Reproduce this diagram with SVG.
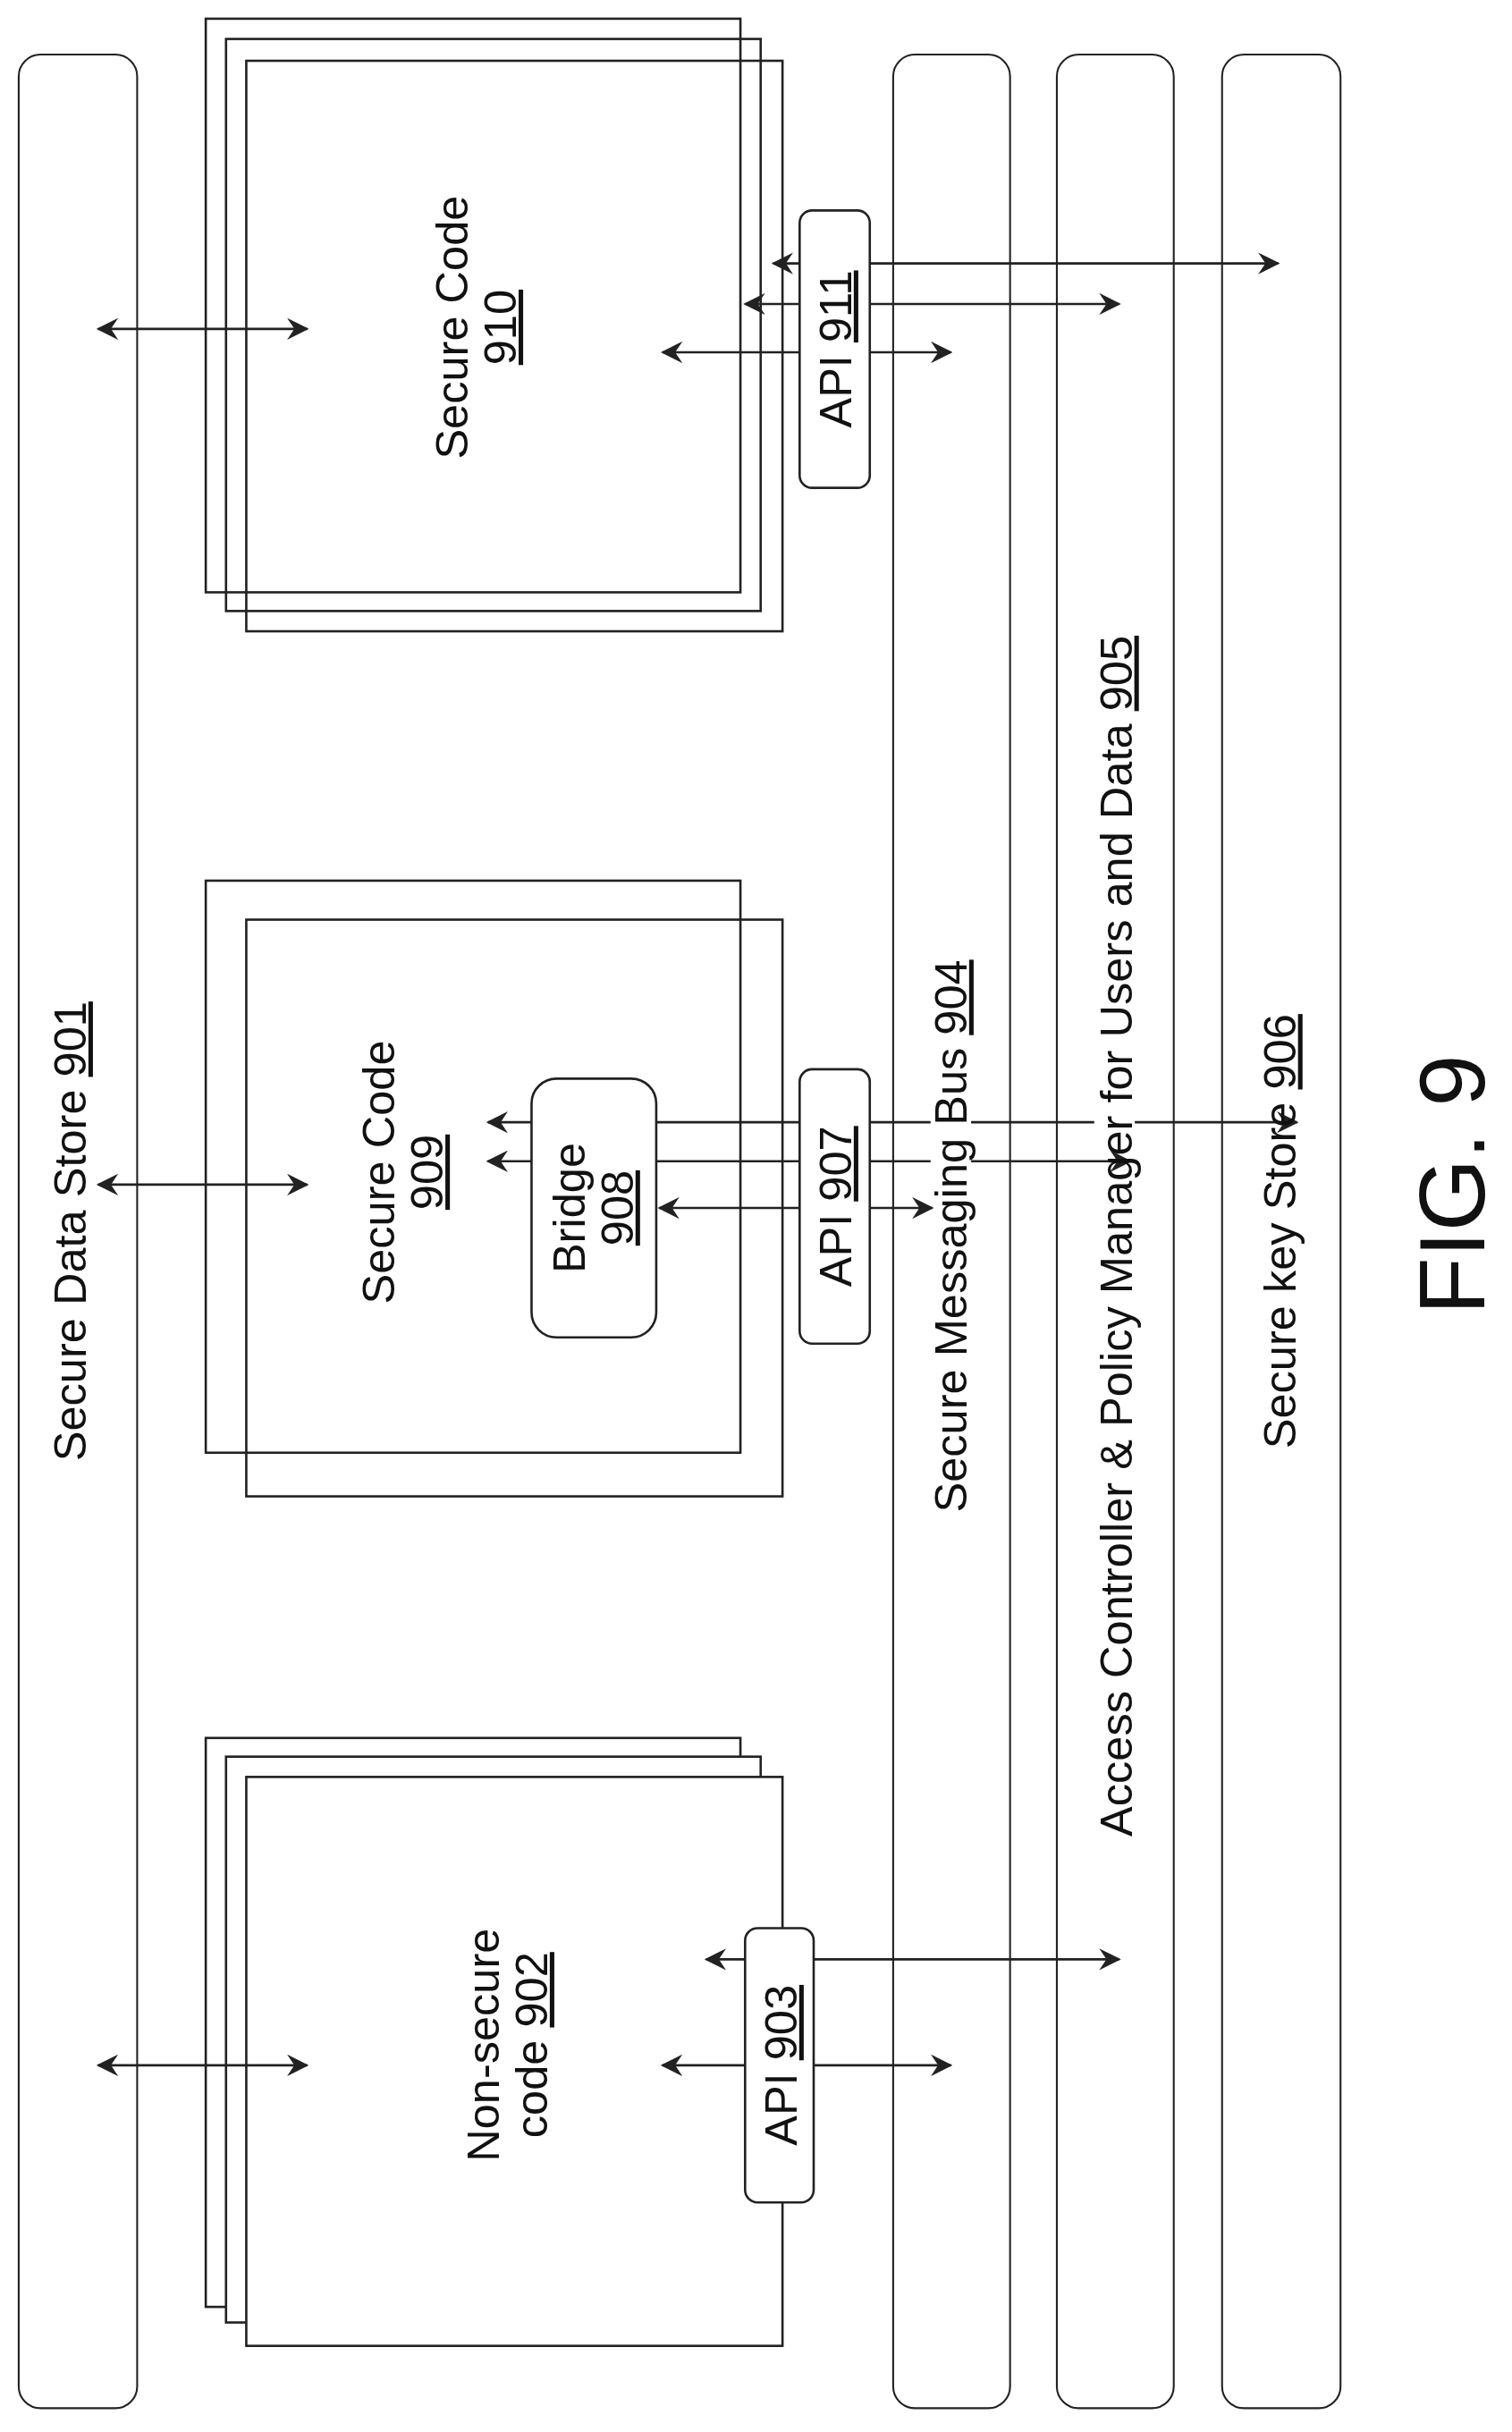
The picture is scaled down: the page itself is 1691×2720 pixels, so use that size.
<svg xmlns="http://www.w3.org/2000/svg" width="1691" height="2720" viewBox="0 0 1691 2720">
<defs>
<marker id="ah" viewBox="0 0 12 12" refX="11" refY="6" markerWidth="14" markerHeight="14" markerUnits="userSpaceOnUse" orient="auto-start-reverse">
<path d="M0,0 L12,6 L0,12 L4,6 z" fill="#222"/>
</marker>
</defs>
<style>
.bar{fill:none;stroke:#222;stroke-width:1.2}
.box{fill:none;stroke:#222;stroke-width:1.5}
.wbox{fill:#fff;stroke:#222;stroke-width:1.5}
.ar{stroke:#222;stroke-width:1.5;fill:none;marker-end:url(#ah)}
.da{stroke:#222;stroke-width:1.5;fill:none;marker-end:url(#ah);marker-start:url(#ah)}
text{font-family:"Liberation Sans",Arial,sans-serif;font-size:29px;fill:#111;text-anchor:middle}
.u{text-decoration:underline}
</style>
<rect width="1691" height="2720" fill="#fff"/>
<g transform="scale(1.7433)">
<g id="bars">
<rect id="n901" class="bar" x="12" y="35" width="76" height="1510" rx="14"/>
<rect id="n904" class="bar" x="573" y="35" width="75" height="1510" rx="14"/>
<rect id="n905" class="bar" x="678" y="35" width="75" height="1510" rx="14"/>
<rect id="n906" class="bar" x="784" y="35" width="76" height="1510" rx="14"/>
</g>
<g id="n910">
<rect class="box" x="132" y="12" width="343" height="368"/>
<rect class="box" x="145" y="25" width="343" height="367"/>
<rect class="box" x="158" y="39" width="344" height="366"/>
<text transform="translate(300,210) rotate(-90)"><tspan x="0" y="0">Secure Code</tspan><tspan x="0" y="31" class="u">910</tspan></text>
</g>
<g id="n909">
<rect class="box" x="132" y="565" width="343" height="367"/>
<rect class="box" x="158" y="590" width="344" height="370"/>
<text transform="translate(253,752) rotate(-90)"><tspan x="0" y="0">Secure Code</tspan><tspan x="0" y="31" class="u">909</tspan></text>
</g>
<g id="n902">
<rect class="wbox" x="132" y="1115" width="343" height="365"/>
<rect class="wbox" x="145" y="1127" width="343" height="363"/>
<rect class="wbox" x="158" y="1140" width="344" height="365"/>
<text transform="translate(320,1312) rotate(-90)"><tspan x="0" y="0">Non-secure</tspan><tspan x="0" y="31">code <tspan class="u">902</tspan></tspan></text>
</g>
<g id="connectors">
<line class="da" x1="63" y1="211" x2="197" y2="211"/>
<line class="da" x1="425" y1="226" x2="610" y2="226"/>
<line class="da" x1="478" y1="195" x2="718" y2="195"/>
<line class="da" x1="496" y1="169" x2="820" y2="169"/>
<line class="da" x1="63" y1="760" x2="197" y2="760"/>
<line class="da" x1="313" y1="720" x2="832" y2="720"/>
<line class="ar" x1="421" y1="745" x2="313" y2="745"/>
<line class="ar" x1="421" y1="745" x2="725" y2="745"/>
<line class="da" x1="63" y1="1325" x2="197" y2="1325"/>
<line class="da" x1="425" y1="1325" x2="610" y2="1325"/>
<line class="da" x1="453" y1="1257" x2="718" y2="1257"/>
</g>
<rect x="597" y="712" width="26" height="40" fill="#fff"/>
<rect x="702" y="714" width="26" height="12" fill="#fff"/>
<g id="labels">
<text transform="translate(55,790) rotate(-90)">Secure Data Store <tspan class="u">901</tspan></text>
<text transform="translate(620,793) rotate(-90)">Secure Messaging Bus <tspan class="u">904</tspan></text>
<text transform="translate(726,793) rotate(-90)">Access Controller &amp; Policy Manager for Users and Data <tspan class="u">905</tspan></text>
<text transform="translate(831,790) rotate(-90)">Secure key Store <tspan class="u">906</tspan></text>
</g>
<line class="da" x1="423" y1="775" x2="598" y2="775"/>
<g id="n911">
<rect class="wbox" x="513" y="135" width="45" height="178" rx="8"/>
<text transform="translate(546,224) rotate(-90)">API <tspan class="u">911</tspan></text>
</g>
<g id="n908">
<rect class="wbox" x="341" y="692" width="80" height="166" rx="16"/>
<text transform="translate(375,775) rotate(-90)"><tspan x="0" y="0">Bridge</tspan><tspan x="0" y="31" class="u">908</tspan></text>
</g>
<g id="n907">
<rect class="wbox" x="513" y="686" width="45" height="176" rx="8"/>
<text transform="translate(546,774) rotate(-90)">API <tspan class="u">907</tspan></text>
</g>
<g id="n903">
<rect class="wbox" x="478" y="1237" width="44" height="176" rx="8"/>
<text transform="translate(511,1325) rotate(-90)">API <tspan class="u">903</tspan></text>
</g>
<text transform="translate(952,760) rotate(-90)" style="font-size:60px">FIG. 9</text>
</g>
</svg>
